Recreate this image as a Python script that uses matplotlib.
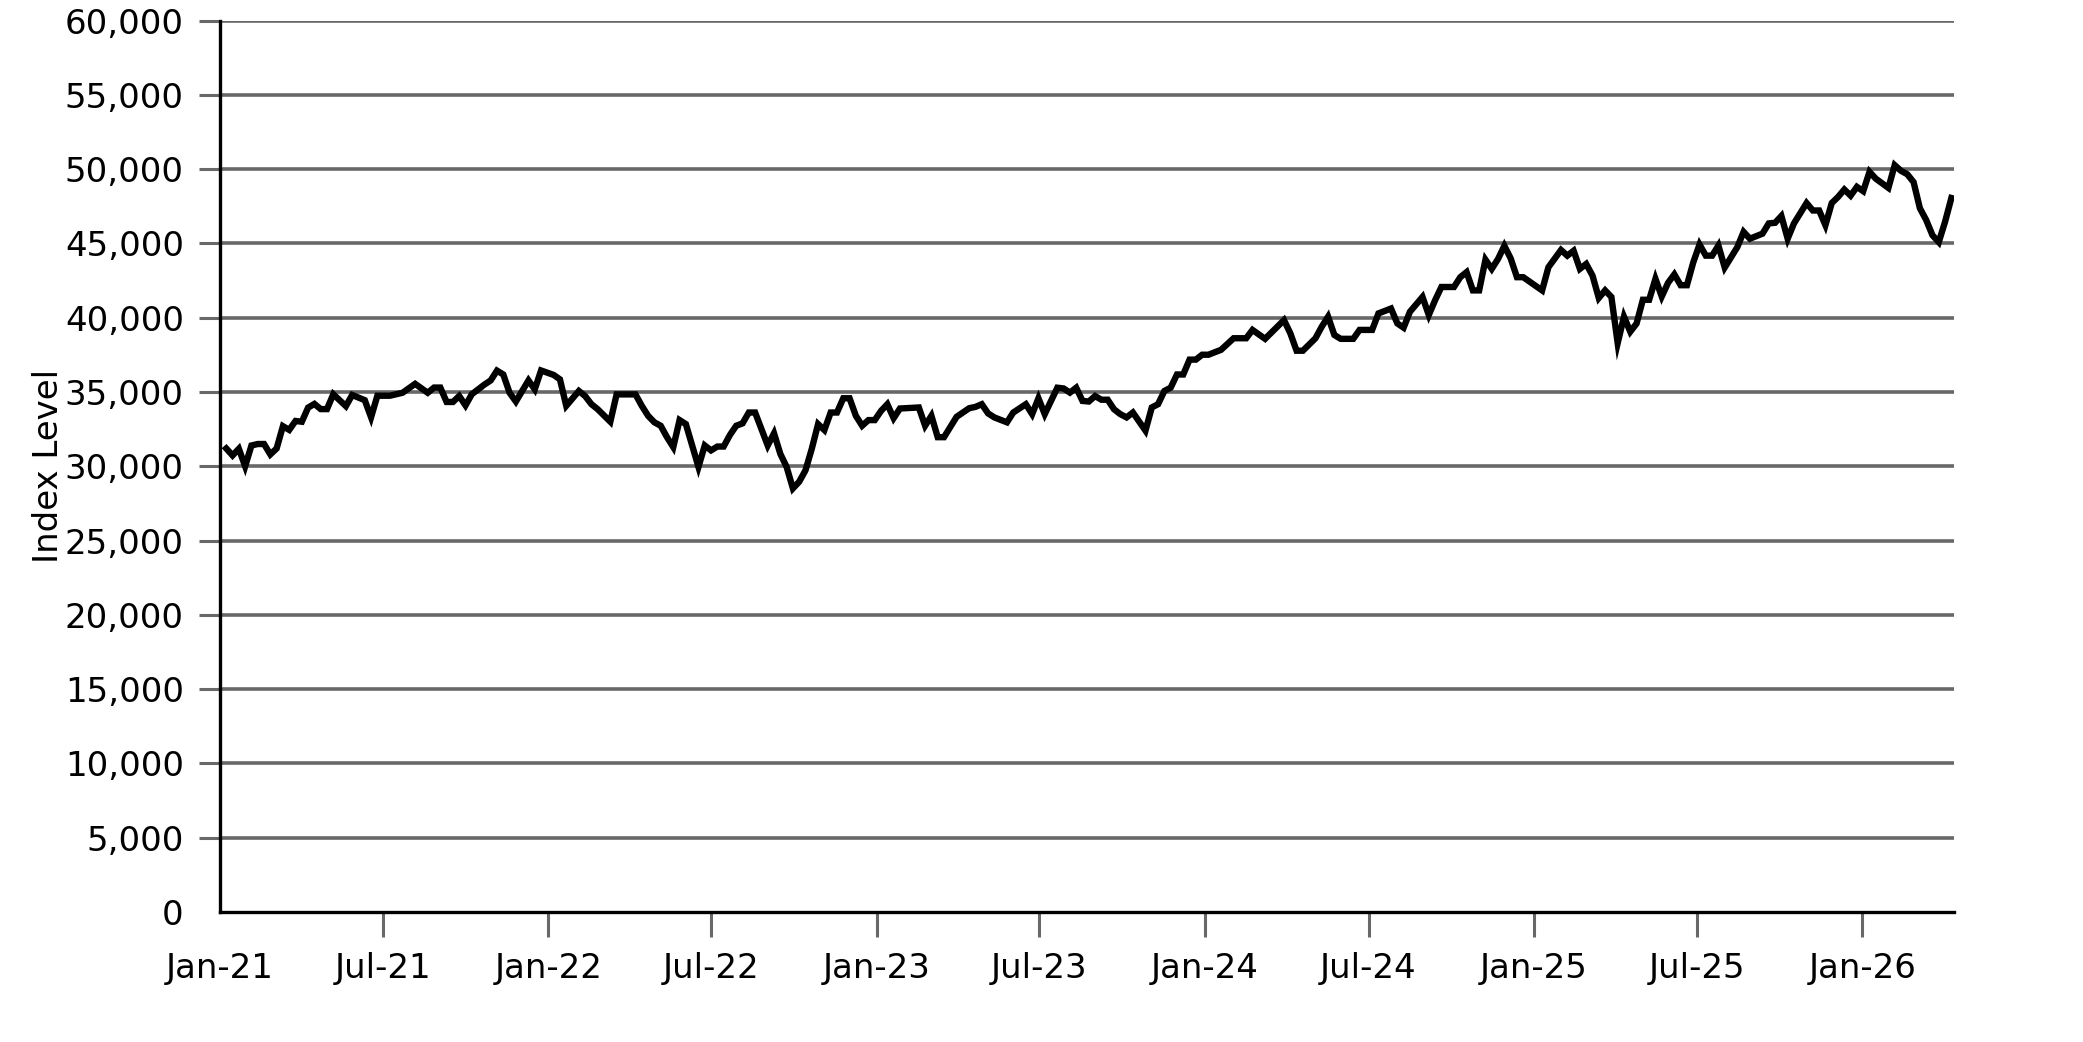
import numpy as np
import pandas as pd
import matplotlib
matplotlib.use('Agg')
import matplotlib.pyplot as plt
import matplotlib.dates as mdates
import matplotlib.ticker as mticker

# weekly index level (week number counted from 8 Jan 2021)
start_date = '2021-01-08'
weeks = [0, 1, 2, 3, 4, 5, 6, 7, 8, 9, 10, 11, 12, 13, 14, 15, 16, 17, 19, 20,
         22, 23, 24, 26, 28, 30, 32, 33, 34, 35, 36, 37, 38, 39, 41, 42, 43, 44, 45, 46,
         48, 49, 50, 52, 53, 54, 56, 57, 58, 59, 61, 62, 65, 66, 67, 68, 69, 70, 71, 72,
         73, 74, 75, 76, 77, 78, 79, 80, 81, 82, 83, 84, 86, 87, 88, 89, 90, 91, 92, 93,
         94, 95, 96, 97, 98, 99, 100, 101, 102, 103, 104, 105, 106, 107, 110, 111, 112, 113, 114, 116,
         118, 119, 120, 121, 122, 124, 125, 127, 128, 129, 130, 131, 132, 133, 134, 135, 136, 137, 138, 139,
         140, 141, 142, 143, 144, 146, 147, 148, 149, 150, 151, 152, 153, 154, 155, 156, 158, 160, 162, 163,
         165, 168, 169, 170, 171, 173, 174, 175, 176, 177, 179, 180, 182, 183, 185, 186, 187, 188, 190, 191,
         192, 193, 195, 196, 197, 198, 199, 200, 201, 202, 203, 204, 205, 206, 209, 210, 212, 213, 214, 215,
         216, 217, 218, 219, 220, 221, 222, 223, 224, 225, 226, 227, 228, 229, 230, 231, 232, 233, 234, 235,
         236, 237, 238, 239, 240, 241, 242, 244, 245, 246, 247, 248, 249, 251, 252, 253, 254, 255, 256, 257,
         258, 259, 260, 261, 262, 264, 265, 266, 267, 268, 269, 270, 271, 272, 273, 274]
index_level = [31200, 30730, 31180, 30000, 31400, 31500, 31500, 30800, 31200, 32700,
               32450, 33050, 33000, 33950, 34200, 33850, 33850, 34850, 34050, 34800,
               34450, 33300, 34750, 34750, 34950, 35550, 34950, 35300, 35300, 34330,
               34330, 34730, 34100, 34850, 35500, 35780, 36440, 36180, 34950, 34360,
               35780, 35180, 36450, 36150, 35850, 34070, 35070, 34730, 34180, 33840,
               33000, 34840, 34840, 34070, 33400, 32960, 32730, 31960, 31290, 33110,
               32840, 31400, 29960, 31400, 31070, 31330, 31330, 32110, 32730, 32890,
               33620, 33620, 31400, 32220, 30840, 29960, 28510, 28960, 29730, 31180,
               32840, 32440, 33620, 33620, 34580, 34580, 33400, 32730, 33110, 33110,
               33730, 34180, 33240, 33890, 33960, 32730, 33400, 31960, 31960, 33330,
               33910, 34000, 34180, 33560, 33290, 32960, 33620, 34180, 33510, 34580,
               33510, 34400, 35290, 35240, 34960, 35290, 34400, 34360, 34730, 34480,
               34480, 33840, 33510, 33290, 33620, 32400, 33960, 34180, 35070, 35290,
               36180, 36180, 37180, 37180, 37510, 37510, 37840, 38620, 38620, 39180,
               38580, 39840, 38960, 37780, 37780, 38620, 39400, 40070, 38840, 38580,
               38580, 39180, 39180, 40290, 40620, 39620, 39330, 40400, 41400, 40180,
               41180, 42070, 42070, 42730, 43070, 41840, 41840, 43910, 43290, 43960,
               44840, 44000, 42730, 42730, 41840, 43400, 44560, 44180, 44510, 43290,
               43620, 42840, 41330, 41840, 41400, 38290, 40070, 39060, 39610, 41210,
               41210, 42620, 41430, 42350, 42920, 42190, 42190, 43720, 44930, 44180,
               44180, 44860, 43380, 44060, 44750, 45780, 45320, 45660, 46350, 46390,
               46850, 45320, 46350, 47720, 47220, 47220, 46230, 47720, 48130, 48630,
               48220, 48810, 48520, 49820, 49360, 48740, 50270, 49890, 49660, 49130,
               47370, 46580, 45550, 45090, 46460, 48060]

y_ticks = list(range(0, 60001, 5000))

dates = pd.Timestamp(start_date) + pd.to_timedelta(np.array(weeks) * 7, unit='D')

grid_col = '#686868'
fsize = 24.5

fig = plt.figure(figsize=(20.83, 10.42), dpi=100)
ax = fig.add_axes([0.1056, 0.1248, 0.8325, 0.8554])

for yv in y_ticks[1:]:
    ax.axhline(yv, color=grid_col, lw=2.6, zorder=1)

ax.plot(dates, index_level, color='black', lw=4.6, solid_joinstyle='miter', zorder=3)

ax.set_ylim(0, 60000)
ax.set_xlim(pd.Timestamp('2021-01-01'), dates[-1] + pd.Timedelta(days=3))
ax.set_yticks(y_ticks)
ax.yaxis.set_major_formatter(mticker.StrMethodFormatter('{x:,.0f}'))
ax.xaxis.set_major_locator(mdates.MonthLocator(bymonth=[1, 7]))
ax.xaxis.set_major_formatter(mdates.DateFormatter('%b-%y'))

for side in ['top', 'right']:
    ax.spines[side].set_visible(False)
for side in ['left', 'bottom']:
    ax.spines[side].set_color('black')
    ax.spines[side].set_linewidth(2.4)

ax.tick_params(axis='y', direction='out', length=15, width=2.2,
               color=grid_col, labelsize=fsize, pad=11)
ax.tick_params(axis='x', direction='out', length=18, width=2.2,
               color=grid_col, labelsize=fsize, pad=11)
ax.set_ylabel('Index Level', fontsize=fsize, labelpad=0)

# no tick marks at the corner (0 and Jan-21)
fig.canvas.draw()
ax.yaxis.get_major_ticks()[0].tick1line.set_visible(False)
ax.xaxis.get_major_ticks()[0].tick1line.set_visible(False)

fig.savefig('out.png', dpi=100)
